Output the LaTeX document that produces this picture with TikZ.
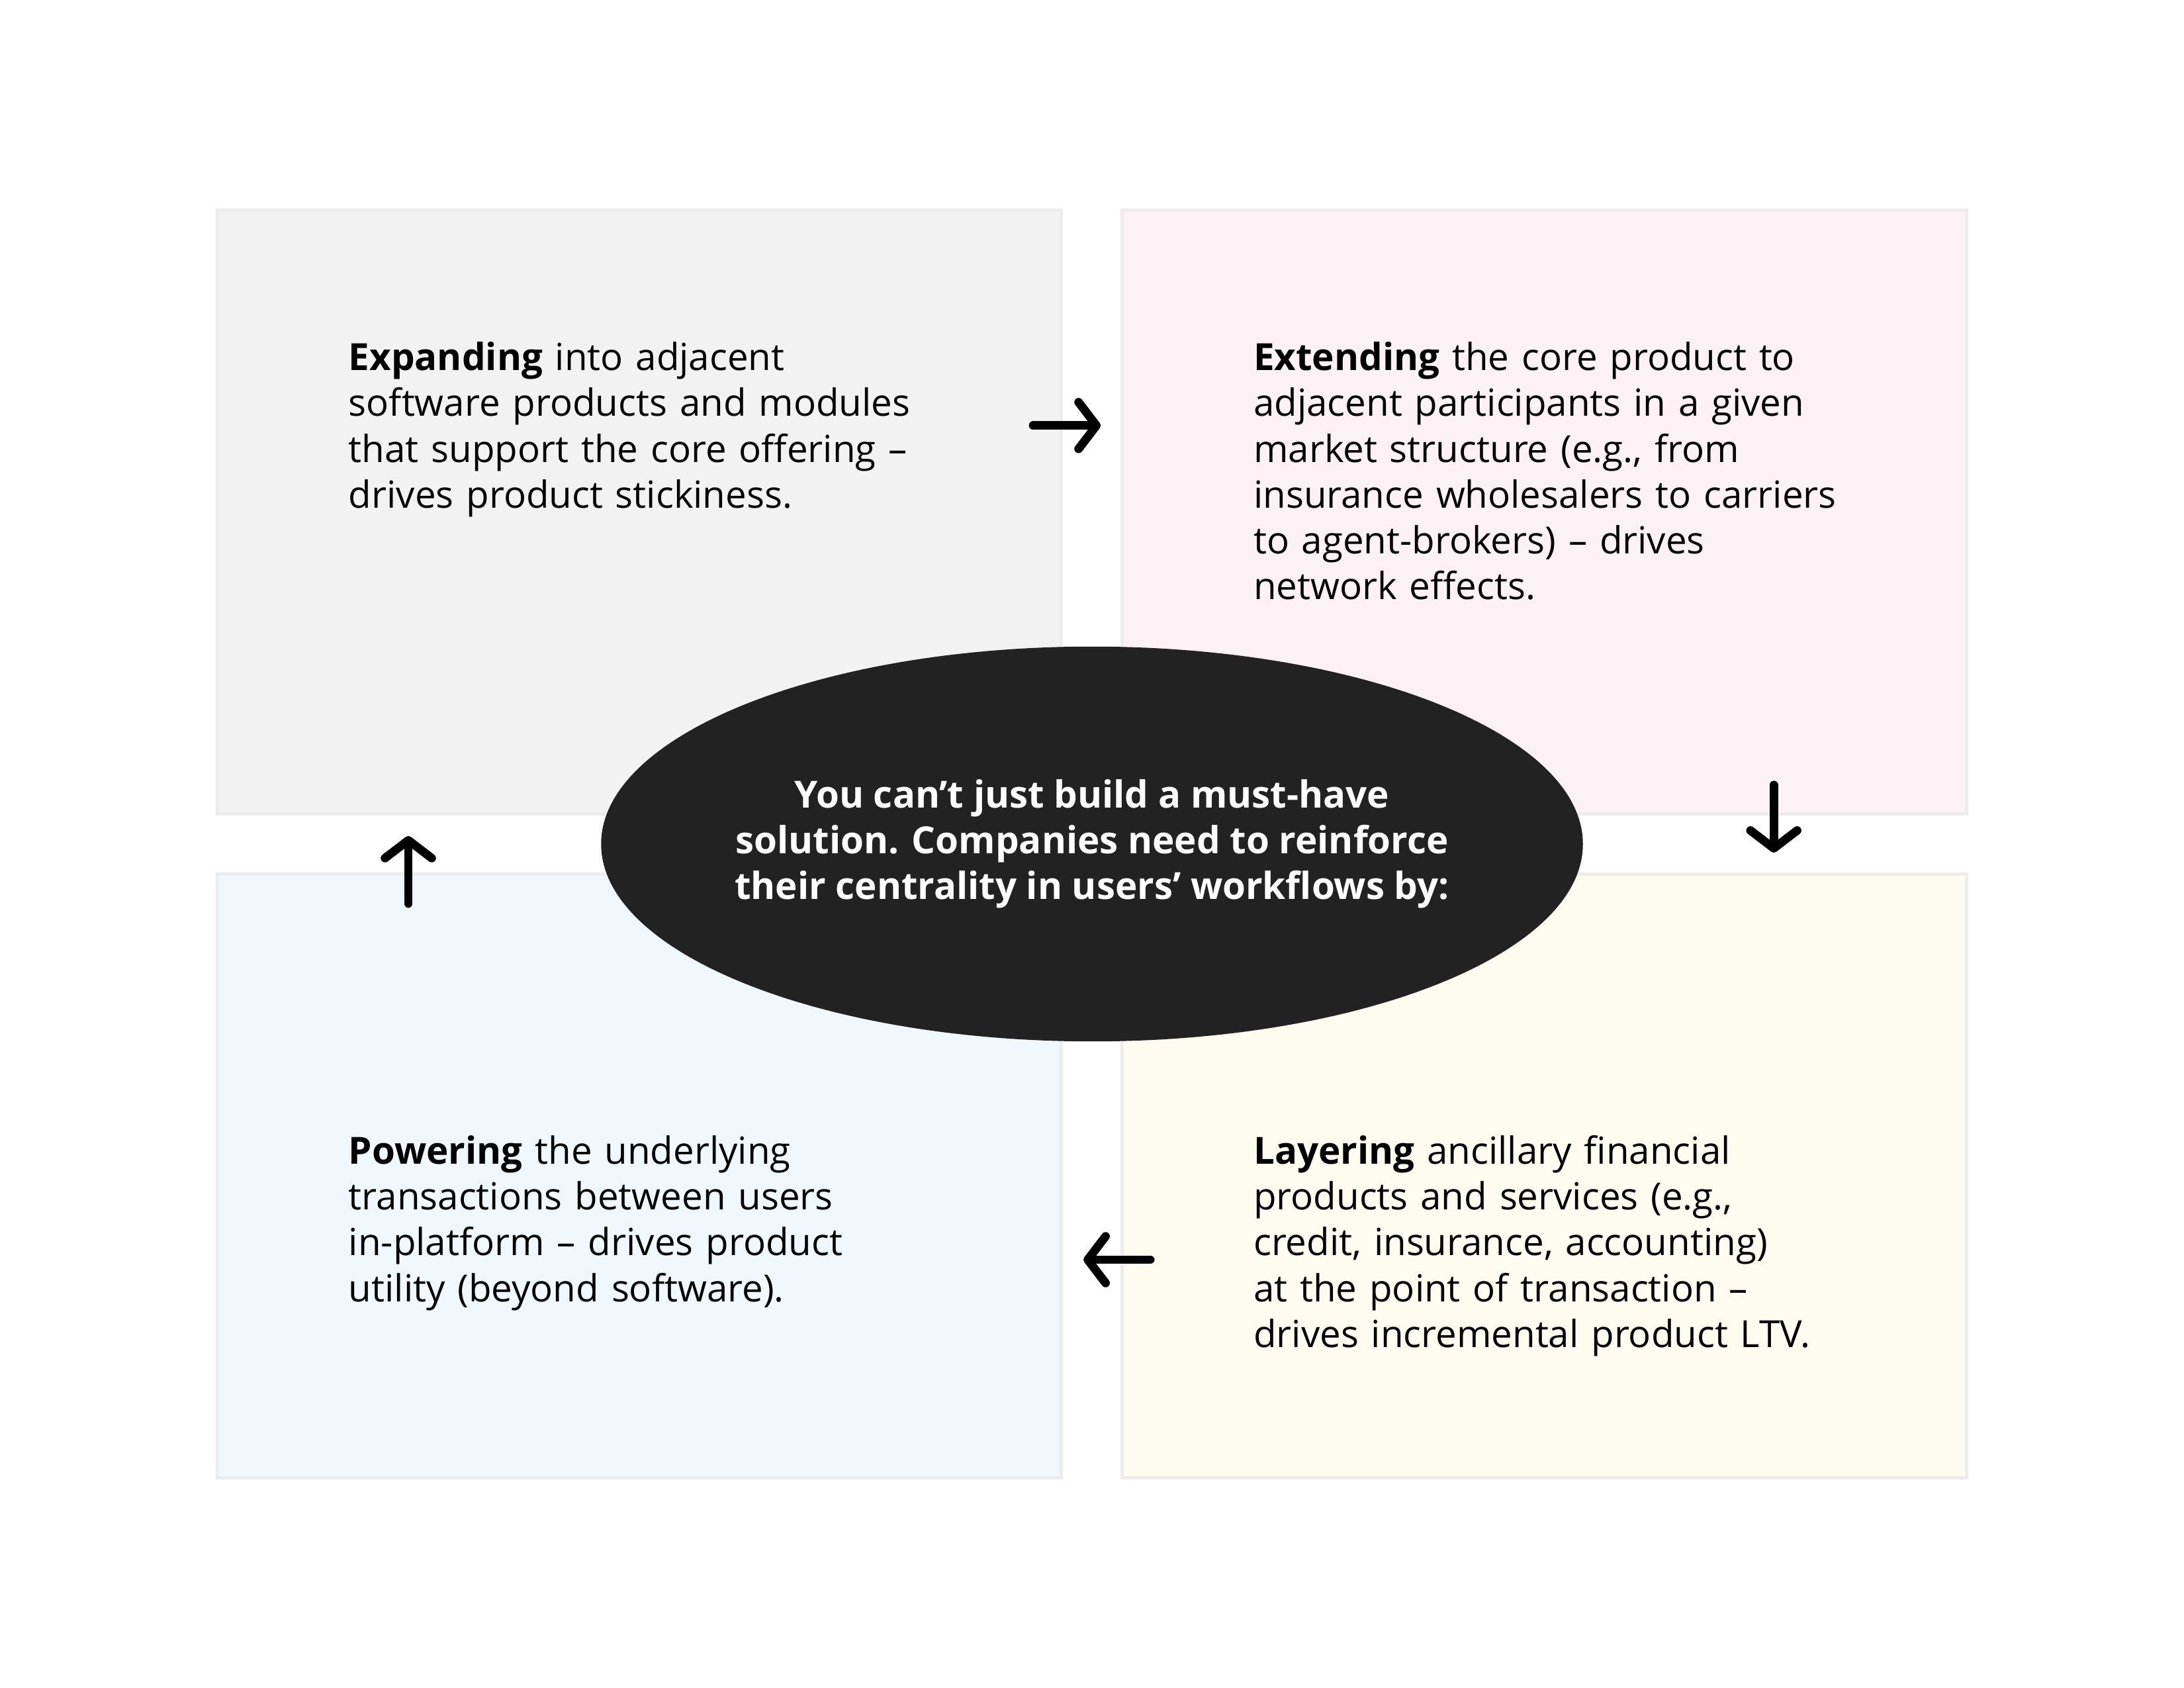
\documentclass[tikz,border=0pt]{standalone}
\usepackage{fontspec}
\setmainfont{Open Sans}
\usetikzlibrary{arrows.meta,positioning,shapes.geometric}

\definecolor{expfill}{HTML}{F2F2F2}
\definecolor{extfill}{HTML}{FCF1F5}
\definecolor{powfill}{HTML}{F0F7FD}
\definecolor{layfill}{HTML}{FEFCEE}
\definecolor{edge}{HTML}{EDEDED}
\definecolor{corefill}{HTML}{222222}

\begin{document}
\begin{tikzpicture}[
    every node/.style={font=\fontsize{13.6}{16.66}\selectfont},
    quad/.style={draw=edge, line width=1.2pt, minimum width=10.8cm, minimum height=7.72cm, inner sep=0pt},
    txt/.style={anchor=base west, text width=9.5cm, align=left, inner sep=0pt},
    core/.style={ellipse, fill=corefill, text=white, align=center, inner xsep=-0.4cm, inner ysep=0pt,
        minimum width=12.56cm, minimum height=5.05cm, font=\fontsize{13.6}{16.66}\selectfont\bfseries},
    arr/.style={-{Straight Barb[length=6.5pt, width=17pt, round]}, line width=3.1pt, line cap=round}
]
\useasboundingbox (0,0) rectangle (27.94,21.59);

% Four quadrants
\node[quad, fill=expfill] (exp) at ( 8.18, 15.04) {};
\node[quad, fill=extfill] (ext) at (19.755, 15.04) {};
\node[quad, fill=powfill] (pow) at ( 8.18, 6.55) {};
\node[quad, fill=layfill] (lay) at (19.755, 6.55) {};

% Quadrant texts
\node[txt] (exptxt) at (4.454, 16.85) {\textbf{Expanding} into adjacent\\
    software products and modules\\
    that support the core offering –\\
    drives product stickiness.};
\node[txt] (exttxt) at (16.03, 16.85) {\textbf{Extending} the core product to\\
    adjacent participants in a given\\
    market structure (e.g., from\\
    insurance wholesalers to carriers\\
    to agent-brokers) – drives\\
    network effects.};
\node[txt] (powtxt) at (4.454, 6.70) {\textbf{Powering} the underlying\\
    transactions between users\\
    in-platform – drives product\\
    utility (beyond software).};
\node[txt] (laytxt) at (16.03, 6.70) {\textbf{Layering} ancillary financial\\
    products and services (e.g.,\\
    credit, insurance, accounting)\\
    at the point of transaction –\\
    drives incremental product LTV.};

% Centre ellipse
\node[core] (hub) at (13.97, 10.795) {You can’t just build a must-have\\
    solution. Companies need to reinforce\\
    their centrality in users’ workflows by:};

% Cycle arrows
\coordinate (a1s) at (13.217, 16.147);
\coordinate (a1e) at (14.081, 16.147);
\coordinate (a2s) at (22.692, 11.549);
\coordinate (a2e) at (22.692, 10.685);
\coordinate (a3s) at (14.716, 5.478);
\coordinate (a3e) at (13.861, 5.478);
\coordinate (a4s) at (5.224, 10.033);
\coordinate (a4e) at (5.224, 10.897);

\draw[arr] (a1s) -- (a1e);
\draw[arr] (a2s) -- (a2e);
\draw[arr] (a3s) -- (a3e);
\draw[arr] (a4s) -- (a4e);
\end{tikzpicture}
\end{document}
